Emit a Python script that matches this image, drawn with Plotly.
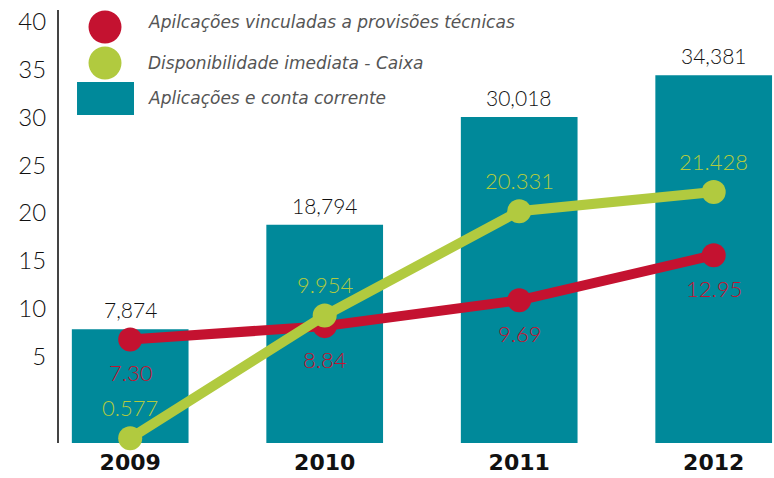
import plotly.graph_objects as go

years = ["2009", "2010", "2011", "2012"]
bar_values = [7.874, 18.794, 30.018, 34.381]
red_values = [6.8, 8.2, 10.9, 15.6]
red_labels = ["7.30", "8.84", "9.69", "12.95"]
green_values = [-3.5, 9.3, 20.2, 22.2]
green_labels = ["0.577", "9.954", "20.331", "21.428"]
y_ticks = [5, 10, 15, 20, 25, 30, 35, 40]
legend_names = ["Apilcações vinculadas a provisões técnicas",
                "Disponibilidade imediata - Caixa",
                "Aplicações e conta corrente"]

TEAL = "#00899A"
RED = "#C41230"
GREEN = "#B1CA3F"
FONT = "DejaVu Sans"
NUMFONT = "Lato"
BASE = -4

xs = list(range(len(years)))

fig = go.Figure()
fig.add_trace(go.Bar(
    x=xs, y=[v - BASE for v in bar_values], base=BASE,
    marker=dict(color=TEAL, line=dict(width=0)), width=0.6,
    showlegend=False, hoverinfo="skip"))
fig.add_trace(go.Scatter(
    x=xs, y=red_values, mode="lines+markers",
    line=dict(color=RED, width=10), marker=dict(color=RED, size=24),
    cliponaxis=False, showlegend=False))
fig.add_trace(go.Scatter(
    x=xs, y=green_values, mode="lines+markers",
    line=dict(color=GREEN, width=10), marker=dict(color=GREEN, size=24),
    cliponaxis=False, showlegend=False))

ann = []
for x, v in zip(xs, bar_values):
    ann.append(dict(x=x, y=v, text=f"{v:.3f}".replace(".", ","), showarrow=False,
                    yanchor="bottom", yshift=5,
                    font=dict(family=NUMFONT, size=21, color="#111", weight=300)))
for x, v, t in zip(xs, red_values, red_labels):
    ann.append(dict(x=x, y=v, text=t, showarrow=False, yanchor="middle", yshift=-33,
                    font=dict(family=NUMFONT, size=22, color=RED, weight=300)))
for x, v, t in zip(xs, green_values, green_labels):
    ann.append(dict(x=x, y=v, text=t, showarrow=False, yanchor="middle", yshift=31,
                    font=dict(family=NUMFONT, size=22, color=GREEN, weight=300)))

# manual legend
legend_y = [0.9723, 0.8776, 0.7968]
for name, ly in zip(legend_names, legend_y):
    ann.append(dict(xref="paper", yref="paper", x=0.1217, y=ly, text=f"<i>{name}</i>",
                    showarrow=False, xanchor="left", yanchor="middle",
                    font=dict(family=FONT, size=17, color="#555")))

shapes = [
    dict(type="circle", xref="paper", yref="paper", x0=0.0413, x1=0.0874, y0=0.9226, y1=0.9988,
         fillcolor=RED, line=dict(width=0)),
    dict(type="circle", xref="paper", yref="paper", x0=0.0413, x1=0.0874, y0=0.8395, y1=0.9157,
         fillcolor=GREEN, line=dict(width=0)),
    dict(type="rect", xref="paper", yref="paper", x0=0.0252, x1=0.1049, y0=0.7575, y1=0.8337,
         fillcolor=TEAL, line=dict(width=0)),
]

fig.update_layout(
    width=774, height=478,
    margin=dict(l=59, r=0, t=10, b=35, autoexpand=False),
    paper_bgcolor="white", plot_bgcolor="white",
    annotations=ann, shapes=shapes,
    xaxis=dict(range=[-0.366, 3.31], tickvals=xs, ticktext=[f"<b>{y}</b>" for y in years],
               showgrid=False, zeroline=False, showline=False, ticks="", automargin=False,
               tickfont=dict(family=FONT, size=22, color="#111"), ticklabelstandoff=4),
    yaxis=dict(range=[BASE, 41.2], tickvals=y_ticks, showgrid=False, zeroline=False,
               showline=True, linecolor="#444", linewidth=2, ticks="", automargin=False,
               tickfont=dict(family=NUMFONT, size=24, color="#111", weight=300),
               ticklabelstandoff=6),
    hovermode=False,
)

fig.write_html("out.html", config={"displayModeBar": False},
               post_script="document.body.style.margin='0';document.body.style.padding='0';")
